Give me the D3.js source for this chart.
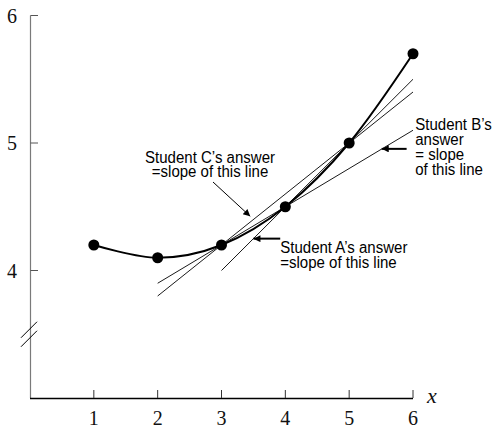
<!DOCTYPE html>
<html>
<head>
<meta charset="utf-8"/>
<script src="https://d3js.org/d3.v7.min.js"></script>
<style>
  body { margin: 0; background: #fff; }
  .tick-label { font-family: "Liberation Serif", "DejaVu Serif", serif; font-size: 20px; fill: #111; }
  .note { font-family: "Liberation Sans", Arial, sans-serif; font-size: 15.5px; fill: #000; }
</style>
</head>
<body>
<svg width="493" height="428"></svg>
<script>
// data points on the curve
var xs = [1, 2, 3, 4, 5, 6];
var ys = [4.2, 4.1, 4.2, 4.5, 5.0, 5.7];

// the three straight lines, end points
var lineNames = ["A", "B", "C"];
var lineX = [[3, 6], [2, 6], [2, 6]];
var lineY = [[4.0, 5.5], [3.9, 5.1], [3.8, 5.4]];

var xTicks = [1, 2, 3, 4, 5, 6];
var yTicks = [4, 5, 6];

// annotation texts
var notes = [
  { lines: ["Student C\u2019s answer", "=slope of this line"], x: 2.82, y: 4.84, anchor: "middle", dy: 14 },
  { lines: ["Student A\u2019s answer", "=slope of this line"], x: 3.92, y: 4.14, anchor: "start", dy: 15 },
  { lines: ["Student B\u2019s", "answer", "= slope", "of this line"], x: 6.035, y: 5.105, anchor: "start", dy: 15 }
];
// arrows: [from, to] in data units
var arrows = [
  { from: [2.867, 4.694], to: [3.45, 4.425], w: 1 },
  { from: [3.92, 4.25], to: [3.5, 4.25], w: 2 },
  { from: [5.9, 4.954], to: [5.51, 4.954], w: 2 }
];

var svg = d3.select("svg");
var x = d3.scaleLinear().domain([0, 6]).range([30, 413]);
var y = d3.scaleLinear().domain([3, 6]).range([398, 15.5]);

svg.append("defs").append("marker")
    .attr("id", "head")
    .attr("viewBox", "0 0 10 10")
    .attr("refX", 10).attr("refY", 5)
    .attr("markerUnits", "userSpaceOnUse")
    .attr("markerWidth", 12).attr("markerHeight", 7)
    .attr("orient", "auto")
  .append("path")
    .attr("d", "M0,0 L10,5 L0,10 Z")
    .attr("fill", "#000");

// y axis
svg.append("line")
    .attr("x1", 30.5).attr("x2", 30.5)
    .attr("y1", y(6)).attr("y2", y(3))
    .attr("stroke", "#7a7a7a").attr("stroke-width", 1.2);
svg.selectAll(".ytick").data(yTicks).enter().append("line")
    .attr("x1", 30.5).attr("x2", 38)
    .attr("y1", d => y(d)).attr("y2", d => y(d))
    .attr("stroke", "#555").attr("stroke-width", 1);
svg.selectAll(".ylab").data(yTicks).enter().append("text")
    .attr("class", "tick-label")
    .attr("x", 12).attr("y", d => y(d) + 7)
    .attr("text-anchor", "middle")
    .text(d => d);

// axis break
var by = y(3.5);
[-4.5, 4.5].forEach(function(o) {
  svg.append("line")
      .attr("x1", 21).attr("y1", by + o + 8)
      .attr("x2", 37).attr("y2", by + o - 8)
      .attr("stroke", "#000").attr("stroke-width", 1);
});

// x axis
svg.append("line")
    .attr("x1", 30).attr("x2", x(6))
    .attr("y1", 398.5).attr("y2", 398.5)
    .attr("stroke", "#000").attr("stroke-width", 1.3);
svg.selectAll(".xtick").data(xTicks).enter().append("line")
    .attr("x1", d => x(d)).attr("x2", d => x(d))
    .attr("y1", 398).attr("y2", 390)
    .attr("stroke", "#333").attr("stroke-width", 1);
svg.selectAll(".xlab").data(xTicks).enter().append("text")
    .attr("class", "tick-label")
    .attr("x", d => x(d)).attr("y", 425)
    .attr("text-anchor", "middle")
    .text(d => d);
svg.append("text")
    .attr("class", "tick-label")
    .attr("x", 427).attr("y", 403)
    .style("font-style", "italic").style("font-size", "22px")
    .text("x");

// straight lines
lineNames.forEach(function(n, i) {
  svg.append("line")
      .attr("x1", x(lineX[i][0])).attr("y1", y(lineY[i][0]))
      .attr("x2", x(lineX[i][1])).attr("y2", y(lineY[i][1]))
      .attr("stroke", "#000").attr("stroke-width", 0.9);
});

// curve
var pts = xs.map((d, i) => [d, ys[i]]);
svg.append("path")
    .datum(pts)
    .attr("d", d3.line().x(d => x(d[0])).y(d => y(d[1])).curve(d3.curveCatmullRom.alpha(0)))
    .attr("fill", "none")
    .attr("stroke", "#000")
    .attr("stroke-width", 2);

svg.selectAll(".pt").data(pts).enter().append("circle")
    .attr("cx", d => x(d[0])).attr("cy", d => y(d[1]))
    .attr("r", 5.5)
    .attr("fill", "#000");

// arrows
arrows.forEach(function(a) {
  svg.append("line")
      .attr("x1", x(a.from[0])).attr("y1", y(a.from[1]))
      .attr("x2", x(a.to[0])).attr("y2", y(a.to[1]))
      .attr("stroke", "#000").attr("stroke-width", a.w)
      .attr("marker-end", "url(#head)");
});

// notes
notes.forEach(function(nt) {
  var g = svg.append("g")
      .attr("transform", "translate(" + x(nt.x) + "," + y(nt.y) + ") scale(0.97,1.06)");
  nt.lines.forEach(function(t, i) {
    g.append("text")
        .attr("class", "note")
        .attr("x", 0).attr("y", i * nt.dy / 1.06)
        .attr("text-anchor", nt.anchor)
        .text(t);
  });
});
</script>
</body>
</html>
